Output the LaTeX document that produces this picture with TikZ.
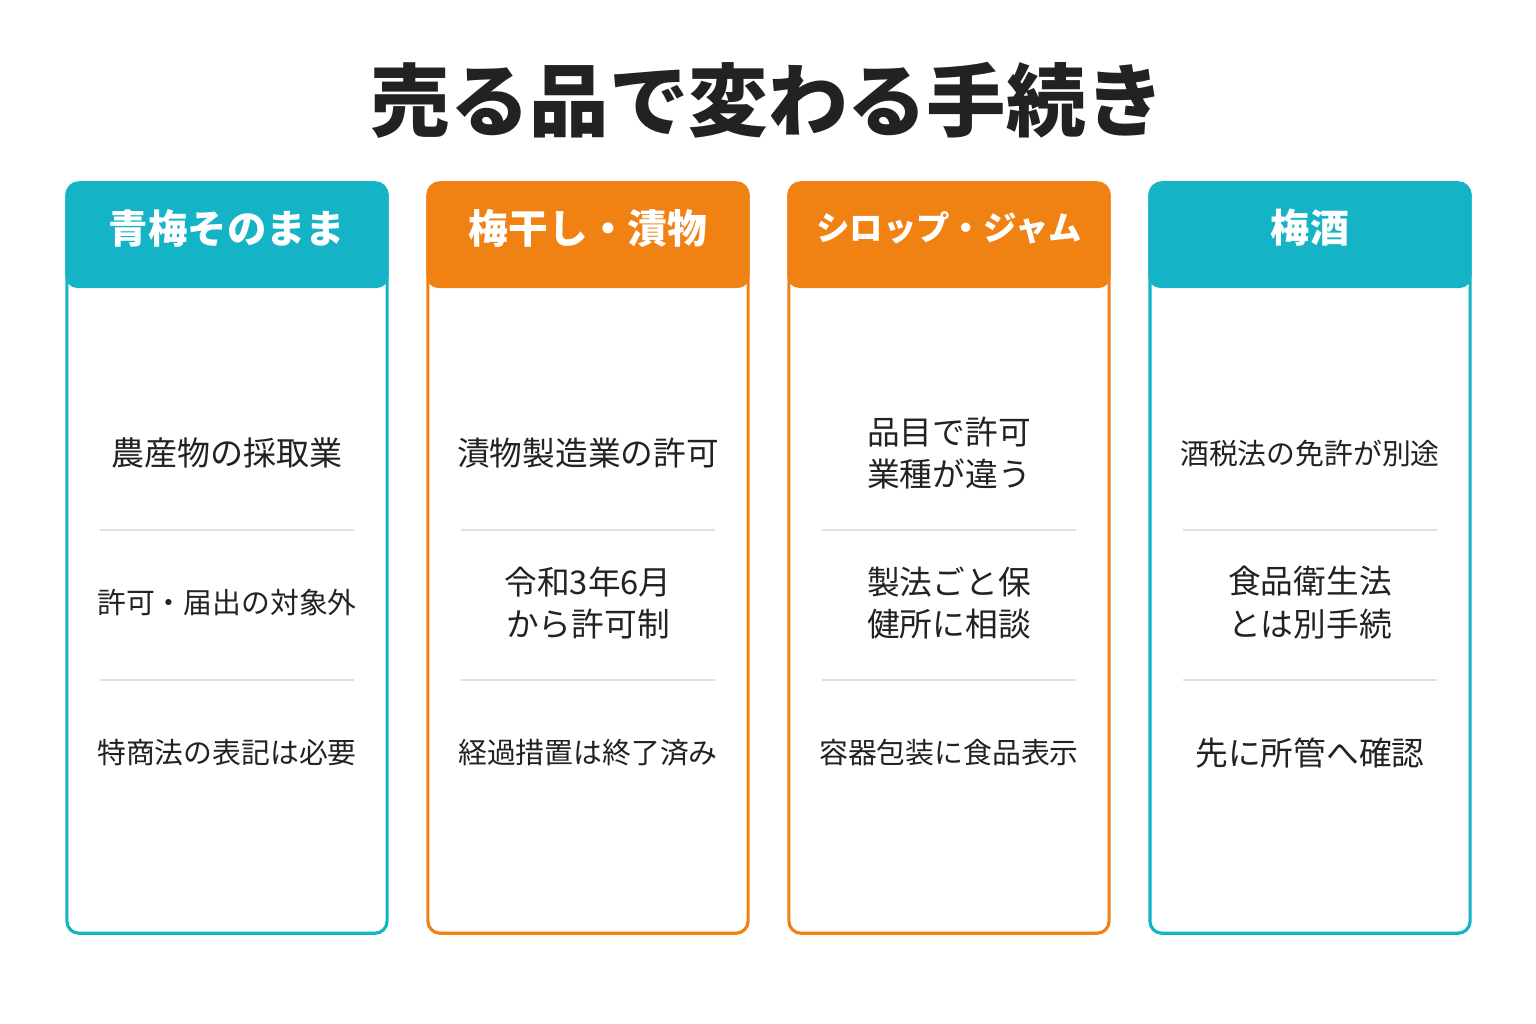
\documentclass[tikz,border=0pt]{standalone}
\usepackage{fontspec}
\setmainfont{Noto Sans CJK JP}
\usetikzlibrary{positioning}
\definecolor{teal}{HTML}{14B3C6}
\definecolor{orng}{HTML}{F08214}
\definecolor{ink}{HTML}{222222}
\tikzset{
  card/.style={rectangle, rounded corners=0.12cm, draw=#1, line width=0.9pt, fill=white, minimum width=3.2cm, minimum height=7.5cm},
  head/.style={rectangle, rounded corners=0.12cm, fill=#1, minimum width=3.23cm, minimum height=1.05cm},
  headtxt/.style={text=white, font=\bfseries\fontsize{#1}{#1}\selectfont},
  cell/.style={text=ink, align=center, font=\fontsize{#1}{12.2}\selectfont},
  sep/.style={draw=gray!25, line width=0.6pt}
}
\begin{document}
\begin{tikzpicture}[x=0.01cm, y=-0.01cm]
  \useasboundingbox (0,0) rectangle (1536,1024);
  \node [text=ink, font=\bfseries\fontsize{22.6}{22.6}\selectfont] (title) at (768,100) {売る品で変わる手続き};

  % cards
  \node [card=teal] (card1) at (227,558) {};
  \node [card=orng] (card2) at (588,558) {};
  \node [card=orng] (card3) at (949,558) {};
  \node [card=teal] (card4) at (1310,558) {};

  % headers
  \node [head=teal] (head1) at (227,235.5) {};
  \node [head=orng] (head2) at (588,235.5) {};
  \node [head=orng] (head3) at (949,235.5) {};
  \node [head=teal] (head4) at (1310,235.5) {};
  \node [headtxt=11.2] at (227,228) {青梅そのまま};
  \node [headtxt=11.3] at (588,228) {梅干し・漬物};
  \node [headtxt=9.5] at (949,228) {シロップ・ジャム};
  \node [headtxt=11.1] at (1310,228) {梅酒};

  % separators
  \foreach \x in {227,588,949,1310} {
    \draw [sep] (\x-127,530) -- (\x+127,530);
    \draw [sep] (\x-127,680) -- (\x+127,680);
  }

  % cells
  \node [cell=9.4] (c1r1) at (227,453) {農産物の採取業};
  \node [cell=8.2] (c1r2) at (227,603) {許可・届出の対象外};
  \node [cell=8.2] (c1r3) at (227,753) {特商法の表記は必要};

  \node [cell=9.3] (c2r1) at (588,453) {漬物製造業の許可};
  \node [cell=9.3] (c2r2) at (588,603) {令和3年6月\\から許可制};
  \node [cell=8.2] (c2r3) at (588,753) {経過措置は終了済み};

  \node [cell=9.3] (c3r1) at (949,453) {品目で許可\\業種が違う};
  \node [cell=9.3] (c3r2) at (949,603) {製法ごと保\\健所に相談};
  \node [cell=8.2] (c3r3) at (949,753) {容器包装に食品表示};

  \node [cell=8.2] (c4r1) at (1310,453) {酒税法の免許が別途};
  \node [cell=9.3] (c4r2) at (1310,603) {食品衛生法\\とは別手続};
  \node [cell=9.3] (c4r3) at (1310,753) {先に所管へ確認};
\end{tikzpicture}
\end{document}
